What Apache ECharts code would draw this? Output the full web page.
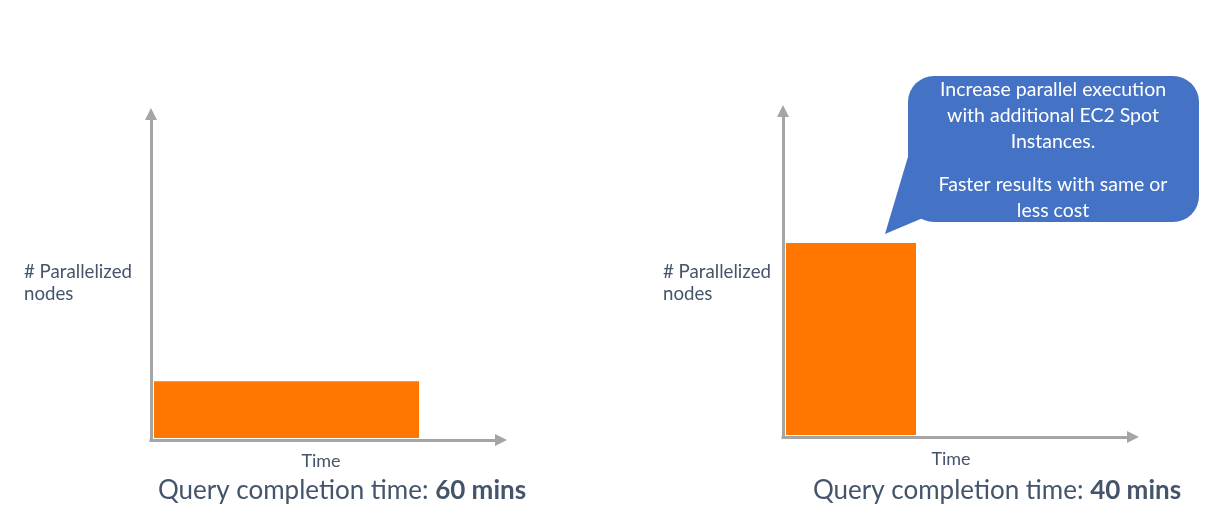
<!DOCTYPE html>
<html>
<head>
<meta charset="utf-8">
<script src="https://cdn.jsdelivr.net/npm/echarts@6/dist/echarts.min.js"></script>
<style>
  html, body { margin: 0; padding: 0; background: #ffffff; }
  #chart { width: 1226px; height: 514px; }
</style>
</head>
<body>
<div id="chart"></div>
<script>
// ---- data ----
const completionMins = [60, 40];          // query completion time per scenario
const barTime = [76.6, 38];               // bar extent along the (unitless) time axis, 0-100
const barNodes = [18, 59.5];              // bar height along the (unitless) nodes axis, 0-100
const yAxisTitle = '# Parallelized\nnodes';
const xAxisTitle = 'Time';
const calloutTop = ['Increase parallel execution', 'with additional EC2 Spot', 'Instances.'];
const calloutBottom = ['Faster results with same or', 'less cost'];

const FONT = 'Lato, "Open Sans", sans-serif';
const TEXT = '#44546A';
const AXIS = '#A5A5A5';
const ORANGE = '#FF7700';
const BLUE = '#4472C4';

const grids = [
  { left: 151, top: 114, width: 350, height: 326 },
  { left: 783, top: 111, width: 350, height: 326 }
];

function axisLine() {
  return {
    show: true,
    symbol: ['none', 'triangle'],
    symbolSize: [12, 12],
    lineStyle: { color: AXIS, width: 3, cap: 'square' }
  };
}

const xAxes = grids.map((g, i) => ({
  type: 'value', gridIndex: i, min: 0, max: 100,
  axisLine: axisLine(), axisTick: { show: false }, axisLabel: { show: false }, splitLine: { show: false }
}));
const yAxes = grids.map((g, i) => ({
  type: 'value', gridIndex: i, min: 0, max: 100,
  axisLine: axisLine(), axisTick: { show: false }, axisLabel: { show: false }, splitLine: { show: false }
}));

const series = grids.map((g, i) => ({
  type: 'custom',
  xAxisIndex: i, yAxisIndex: i,
  data: [[barTime[i], barNodes[i]]],
  renderItem: function (params, api) {
    const origin = api.coord([0, 0]);
    const end = api.coord([api.value(0), api.value(1)]);
    const x0 = origin[0] + 3;   // clear the axis stroke
    const y0 = origin[1] - 2;
    return {
      type: 'rect',
      shape: { x: x0, y: end[1], width: end[0] - x0, height: y0 - end[1] },
      style: { fill: ORANGE }
    };
  },
  silent: true
}));

const graphics = [];
// axis titles
[[24, 283], [663, 283]].forEach(p => {
  graphics.push({
    type: 'text', x: p[0], y: p[1],
    style: { text: yAxisTitle, font: '18.7px ' + FONT, fill: TEXT, textAlign: 'left', textVerticalAlign: 'middle', lineHeight: 22 }
  });
});
[[321, 461], [951, 459]].forEach(p => {
  graphics.push({
    type: 'text', x: p[0], y: p[1],
    style: { text: xAxisTitle, font: '18px ' + FONT, fill: TEXT, textAlign: 'center', textVerticalAlign: 'middle' }
  });
});
// completion time captions
[[342, 491], [997, 491]].forEach((p, i) => {
  graphics.push({
    type: 'text', x: p[0], y: p[1],
    style: {
      text: '{n|Query completion time: }{b|' + completionMins[i] + ' mins}',
      textAlign: 'center', textVerticalAlign: 'middle',
      rich: {
        n: { fontFamily: FONT, fontSize: 26, fill: TEXT, color: TEXT },
        b: { fontFamily: FONT, fontSize: 26, fontWeight: 'bold', fill: TEXT, color: TEXT }
      }
    }
  });
});
// callout bubble
graphics.push({
  type: 'polygon',
  shape: { points: [[910, 150], [885, 234], [930, 215]] },
  style: { fill: BLUE }
});
graphics.push({
  type: 'rect',
  shape: { x: 908, y: 76, width: 291, height: 146, r: 26 },
  style: { fill: BLUE }
});
graphics.push({
  type: 'text', x: 1053, y: 116,
  style: {
    text: calloutTop.join('\n'),
    font: '19.5px ' + FONT, fill: '#ffffff', textAlign: 'center', textVerticalAlign: 'middle', lineHeight: 26
  }
});
graphics.push({
  type: 'text', x: 1053, y: 198,
  style: {
    text: calloutBottom.join('\n'),
    font: '19.5px ' + FONT, fill: '#ffffff', textAlign: 'center', textVerticalAlign: 'middle', lineHeight: 26
  }
});

const chart = echarts.init(document.getElementById('chart'), null, { renderer: 'canvas' });
chart.setOption({
  backgroundColor: '#ffffff',
  animation: false,
  grid: grids,
  xAxis: xAxes,
  yAxis: yAxes,
  series: series,
  graphic: graphics
});
</script>
</body>
</html>
